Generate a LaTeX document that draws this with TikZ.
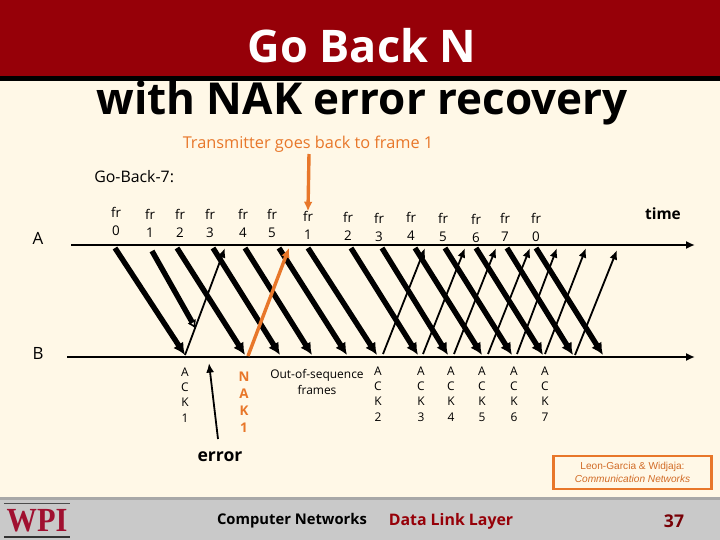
\documentclass[tikz,border=0pt]{standalone}
\usepackage{fontspec}
\setmainfont{Open Sans}
\newfontfamily\logofont{Liberation Serif}
\newfontfamily\refsfont{Liberation Sans}
\usetikzlibrary{arrows.meta,positioning}
\definecolor{cBack}{HTML}{FFF8E7}
\definecolor{cHead}{HTML}{960008}
\definecolor{cFoot}{HTML}{C9C9C9}
\definecolor{cStrip}{HTML}{A8A8A8}
\definecolor{cOrange}{HTML}{E8772A}
\definecolor{cLogo}{HTML}{A01030}

\begin{document}
\begin{tikzpicture}[
  x=0.25mm,y=-0.25mm,
  lab/.style ={font=\fontsize{9.5}{11}\selectfont,align=center,inner sep=0pt},
  stack/.style={lab,font=\fontsize{8.5}{10.8}\selectfont},
  foot/.style ={font=\fontsize{10.5}{12}\selectfont\bfseries,inner sep=0pt},
  axis/.style ={-{Latex[length=2.2mm,width=2mm]},draw=black,line width=0.7mm},
  frm/.style  ={-{Latex[length=3mm,width=3mm]},draw=black,line width=1.35mm},
  ack/.style  ={-{Latex[length=2.4mm,width=2mm]},draw=black,line width=0.45mm},
  nak/.style  ={-{Latex[length=2.4mm,width=2.2mm]},draw=cOrange,line width=0.85mm},
]
\useasboundingbox (0,0) rectangle (720,540);
\fill[cBack] (0,0) rectangle (720,540);
\fill[cHead] (0,0) rectangle (720,76);
\fill[black] (0,76) rectangle (720,81);
\fill[cFoot] (0,497) rectangle (720,540);
\fill[cStrip] (0,497) rectangle (720,500);

\node[font=\fontsize{32}{36}\selectfont\bfseries,text=white] (title) at (362,46) {Go Back N};
\node[font=\fontsize{31.3}{36}\selectfont\bfseries] (subtitle) at (362,103) {with NAK error recovery};
\node[lab,font=\fontsize{11.6}{13}\selectfont,text=cOrange] (back) at (308,144) {Transmitter goes back to frame 1};
\node[lab,font=\fontsize{11.3}{13}\selectfont,anchor=west] (gbn) at (94,177) {Go-Back-7:};

\node[lab,font=\fontsize{12}{13}\selectfont] (sendr) at (38,238) {A};
\node[lab,font=\fontsize{12}{13}\selectfont] (recvr) at (38,353) {B};
\node[lab,font=\fontsize{11}{13}\selectfont\bfseries] (time) at (663,214) {time};

% time lines
\coordinate (al) at (71,245);
\coordinate (ar) at (695,245);
\coordinate (bl) at (67,357);
\coordinate (br) at (695,357);
\draw[axis] (al) -- (ar);
\draw[axis] (bl) -- (br);

% frames
\foreach \i/\t/\x/\y/\xs/\xe in {a/0/116/214/115/185, c/2/180/216/177/245, d/3/210/216/213/280,
    e/4/243/216/245/312, f/5/272/216/279/347, g/1/308/218/308/377, h/2/348/219/351/418,
    i/3/379/220/382/448, j/4/411/219/415/482, k/5/443/220/445/512, l/6/476/221/476/543,
    m/7/505/220/507/573, n/0/536/220/536/603}
  {\node[lab] (fr\i) at (\x,\y+7.5) {fr\\[1.5pt]\t};
   \coordinate (s\i) at (\xs,248);
   \coordinate (e\i) at (\xe,355);
   \draw[frm] (s\i) -- (e\i);}

% the lost frame
\node[lab] (frb) at (150,223.5) {fr\\[1.5pt]1};
\coordinate (sb) at (152,251);
\coordinate (eb) at (196,329);
\draw[frm,-{Latex[open,length=2.2mm,width=2.4mm,line width=0.4mm]}] (sb) -- (eb);

% acks
\foreach \i/\t/\x/\xs/\xe in {2/2/378/383/425, 3/3/421/423/465, 4/4/451/454/496,
    5/5/482/488/530, 6/6/514/517/557, 7/7/545/545/586}
  {\node[stack] (ack\i) at (\x,394) {A\\C\\K\\\t};
   \coordinate (p\i) at (\xs,354);
   \coordinate (q\i) at (\xe,248);
   \draw[ack] (p\i) -- (q\i);}
\coordinate (p8) at (575,355);
\coordinate (q8) at (617,250);
\draw[ack] (p8) -- (q8);

\node[stack] (ack1) at (185,395) {A\\C\\K\\1};
\coordinate (p1) at (185,355);
\coordinate (q1) at (225,248);
\draw[ack] (p1) -- (q1);

% nak and pointers
\node[stack,font=\fontsize{9.5}{12}\selectfont\bfseries,text=cOrange] (nak1) at (244,402) {N\\A\\K\\1};
\coordinate (pn) at (248,356);
\coordinate (qn) at (289,248);
\draw[nak] (pn) -- (qn);

\coordinate (tb) at (309,154);
\draw[nak] (tb) -- (frg.north);

\node[lab,font=\fontsize{8.5}{10.8}\selectfont] (oos) at (317,382) {Out-of-sequence\\frames};
\node[lab,font=\fontsize{12.5}{13}\selectfont\bfseries] (err) at (220,457) {error};
\coordinate (eb2) at (218,439);
\coordinate (et) at (209,363);
\draw[ack] (eb2) -- (et);

% citation box
\node[draw=cOrange,line width=0.55mm,minimum width=158mm/4,minimum height=33mm/4,align=center,inner sep=0pt,
      font=\refsfont\fontsize{7.2}{9.5}\selectfont,text=cOrange!90!black] (refs) at (632.5,472.5)
  {Leon-Garcia \& Widjaja:\\\textit{Communication Networks}};

% footer
\node[foot] (cn) at (292,521) {Computer Networks};
\node[foot,font=\fontsize{11.3}{12}\selectfont\bfseries,text=cHead] (dll) at (451,521) {Data Link Layer};
\node[foot,font=\fontsize{12.5}{13}\selectfont\bfseries,text=cHead!80!black] (pg) at (674,521) {37};
\node[font=\logofont\fontsize{24}{26}\selectfont\bfseries,text=cLogo,inner sep=0pt] (wpi) at (37,521) {\scalebox{0.9}[1]{WPI}};
\draw[black!70,line width=0.25mm] (4,503) -- (70,503);
\draw[black!80,line width=0.4mm] (4,537) -- (70,537);
\end{tikzpicture}
\end{document}
